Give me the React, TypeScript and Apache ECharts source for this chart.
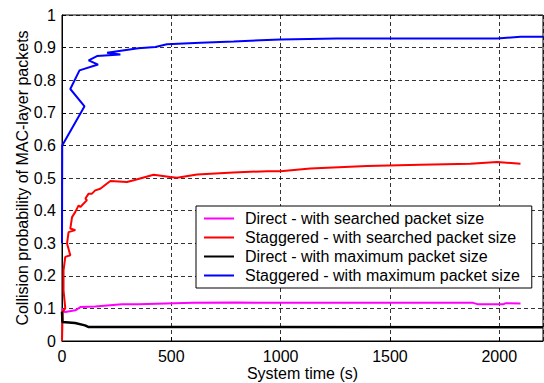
import React, { useEffect, useRef } from "react";
import * as echarts from "echarts";

const seriesNames = [
  "Direct - with searched packet size",
  "Staggered - with searched packet size",
  "Direct - with maximum packet size",
  "Staggered - with maximum packet size",
];
const seriesColors = ["#ff00ff", "#ff0000", "#000000", "#0000ff"];

const directSearched: [number, number][] = [
  [0, 0.1], [5, 0.092], [15, 0.089], [61, 0.094], [84, 0.104], [152, 0.106],
  [274, 0.113], [350, 0.113], [472, 0.115], [600, 0.117], [800, 0.118],
  [1000, 0.117], [1500, 0.117], [1880, 0.117], [1900, 0.113], [2020, 0.113],
  [2030, 0.116], [2097, 0.115],
];
const staggeredSearched: [number, number][] = [
  [0, 0], [3, 0.09], [15, 0.1], [7, 0.155], [7, 0.217], [15, 0.258], [38, 0.263],
  [23, 0.299], [30, 0.334], [61, 0.34], [38, 0.345], [46, 0.38], [61, 0.396],
  [76, 0.416], [84, 0.411], [114, 0.432], [107, 0.437], [122, 0.452], [137, 0.452],
  [152, 0.462], [175, 0.467], [221, 0.491], [297, 0.488], [328, 0.493], [419, 0.51],
  [495, 0.503], [526, 0.501], [618, 0.511], [784, 0.517], [939, 0.521], [999, 0.521],
  [1136, 0.529], [1395, 0.537], [1639, 0.541], [1868, 0.544], [1990, 0.549],
  [2097, 0.544],
];
const directMaximum: [number, number][] = [
  [0, 0.09], [2, 0.058], [60, 0.055], [105, 0.048], [120, 0.043], [2200, 0.042],
];
const staggeredMaximum: [number, number][] = [
  [0, 0.3], [1, 0.6], [103, 0.72], [38, 0.773], [80, 0.83], [165, 0.848],
  [122, 0.861], [160, 0.874], [267, 0.879], [206, 0.884], [349, 0.898],
  [427, 0.902], [480, 0.91], [633, 0.915], [785, 0.919], [998, 0.925],
  [1258, 0.928], [1716, 0.928], [1990, 0.928], [2097, 0.933], [2200, 0.933],
];

const xTitle = "System time (s)";
const yTitle = "Collision probability of MAC-layer packets";

const FONT = "'Liberation Sans', Arial, sans-serif";
const FS = 16;

export default function App() {
  const ref = useRef<HTMLDivElement>(null);
  useEffect(() => {
    if (!ref.current) return;
    const chart = echarts.init(ref.current, undefined, { renderer: "svg" });
    const dataSets = [directSearched, staggeredSearched, directMaximum, staggeredMaximum];
    const widths = [2, 2, 2.5, 2];
    const grid = { color: "#000", type: [4, 3], width: 1, opacity: 0.8 };
    chart.setOption({
      animation: false,
      backgroundColor: "#ffffff",
      textStyle: { fontFamily: FONT, color: "#000" },
      grid: {
        left: 62,
        top: 15,
        right: 1,
        bottom: 42,
        containLabel: false,
        outerBoundsMode: "none",
        show: true,
        borderColor: "#000",
        borderWidth: 1,
      },
      xAxis: {
        type: "value",
        min: 0,
        max: 2200,
        interval: 500,
        name: xTitle,
        nameLocation: "middle",
        nameGap: 24,
        nameMoveOverlap: false,
        nameTextStyle: { fontSize: FS, color: "#000", fontFamily: FONT },
        axisLine: { show: true, onZero: false, lineStyle: { color: "#000", width: 1 } },
        axisTick: { show: true, inside: true, length: 4, lineStyle: { color: "#000" } },
        axisLabel: {
          fontSize: FS,
          color: "#000",
          fontFamily: FONT,
          margin: 7,
          showMaxLabel: false,
          formatter: (v: number) => (v % 500 === 0 ? String(v) : ""),
        },
        splitLine: { show: true, lineStyle: grid },
      },
      yAxis: {
        type: "value",
        min: 0,
        max: 1,
        interval: 0.1,
        name: yTitle,
        nameLocation: "middle",
        nameGap: 32,
        nameMoveOverlap: false,
        nameTextStyle: { fontSize: FS, color: "#000", fontFamily: FONT },
        axisLine: { show: true, onZero: false, lineStyle: { color: "#000", width: 1 } },
        axisTick: { show: true, inside: true, length: 4, lineStyle: { color: "#000" } },
        axisLabel: {
          fontSize: FS,
          color: "#000",
          fontFamily: FONT,
          margin: 6,
          formatter: (v: number) => String(Math.round(v * 10) / 10),
        },
        splitLine: { show: true, lineStyle: grid },
      },
      legend: {
        orient: "vertical",
        left: 196,
        top: 206,
        padding: [3, 12, 3, 8],
        icon: "rect",
        itemWidth: 30,
        itemHeight: 2,
        itemGap: 0,
        borderColor: "#000",
        borderWidth: 1,
        backgroundColor: "#fff",
        borderRadius: 0,
        data: seriesNames,
        textStyle: { fontSize: FS, color: "#000", fontFamily: FONT, lineHeight: 19, padding: [0, 0, 0, 6] },
      },
      series: seriesNames.map((name, i) => ({
        name,
        type: "line",
        data: dataSets[i],
        symbol: "none",
        showSymbol: false,
        color: seriesColors[i],
        itemStyle: { color: seriesColors[i] },
        lineStyle: { color: seriesColors[i], width: widths[i] },
        z: 3 + i,
      })),
    });
    return () => chart.dispose();
  }, []);
  return <div ref={ref} style={{ width: 544, height: 383, position: "absolute", left: 0, top: 0 }} />;
}
